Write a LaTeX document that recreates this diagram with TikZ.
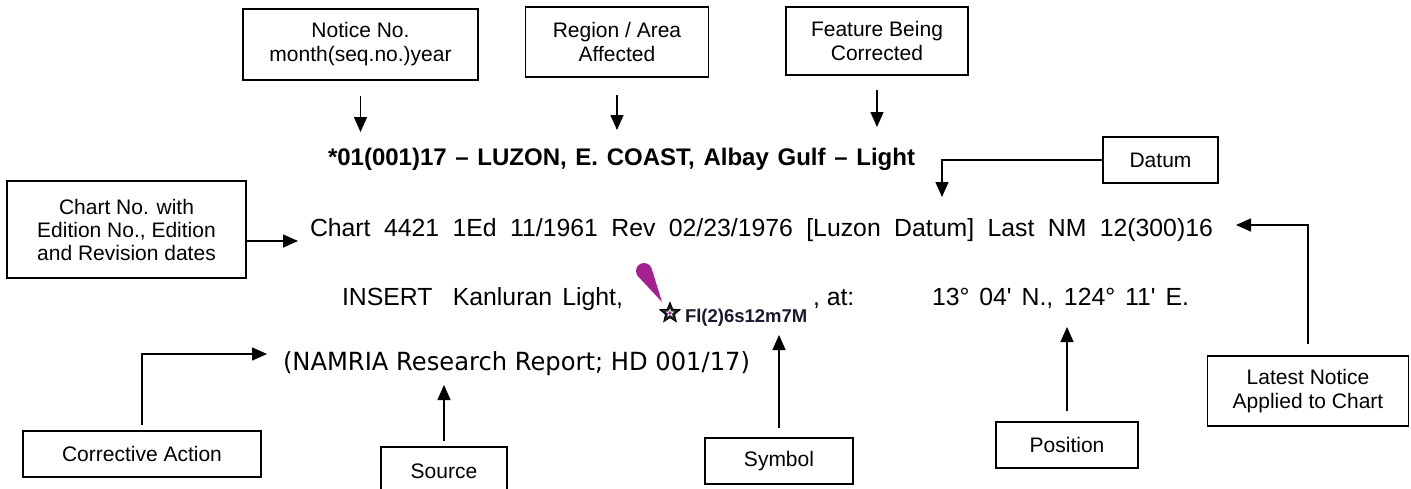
\documentclass[tikz,border=0pt]{standalone}
\usepackage{fontspec}
\setmainfont{Liberation Sans}
\newfontfamily\namfont{DejaVu Sans}
\usetikzlibrary{arrows.meta,shapes.geometric}
\definecolor{mag}{RGB}{165,33,145}
\definecolor{flc}{RGB}{25,25,45}
\newsavebox\fitbox
\newlength\fitlen
\newcommand\fitx[2]{\sbox\fitbox{#2}\setlength\fitlen{\wd\fitbox}\pgfmathsetmacro\fitratio{#1/\fitlen}\scalebox{\fitratio}[1]{\usebox\fitbox}}
\begin{document}
\begin{tikzpicture}[x=1pt,y=-1pt,
  box/.style={draw=black, line width=1.6pt, inner sep=0pt, align=center, font=\fontsize{21}{24}\selectfont},
  conn/.style={line width=1.5pt, -{Triangle[length=15pt,width=13pt]}},
  txt/.style={inner sep=0pt, outer sep=0pt}]
\useasboundingbox (0,0) rectangle (1411,488);
\fill[white] (0,0) rectangle (1411,488);

% label boxes
\node[box, minimum width=235pt, minimum height=71pt] (notice) at (360.5,44.5) {Notice No.\\month(seq.no.)year};
\node[box, minimum width=183pt, minimum height=70pt] (region) at (617,42) {Region / Area\\Affected};
\node[box, minimum width=182pt, minimum height=68pt] (feature) at (877,41) {Feature Being\\Corrected};
\node[box, minimum width=115pt, minimum height=46pt] (datum) at (1160.5,160) {Datum};
\node[box, minimum width=239pt, minimum height=97pt, font=\fontsize{21}{23}\selectfont] (chart) at (126.5,229.5) {Chart No. with\\Edition No., Edition\\and Revision dates};
\node[box, minimum width=201pt, minimum height=70pt] (latest) at (1308,391) {Latest Notice\\Applied to Chart};
\node[box, minimum width=142pt, minimum height=46pt] (position) at (1067,445) {Position};
\node[box, minimum width=148pt, minimum height=46pt] (symbol) at (779,461) {Symbol};
\node[box, minimum width=126pt, minimum height=48pt] (source) at (444,471) {Source};
\node[box, minimum width=238pt, minimum height=46pt] (corrective) at (142,454) {Corrective Action};

% notice text
\node[txt, anchor=base west] (title) at (328,165) {\makebox[587pt][s]{\bfseries\fontsize{24}{28}\selectfont *01(001)17 – LUZON, E. COAST, Albay Gulf – Light}};
\node[txt, anchor=base west] (chartline) at (310,236) {\makebox[903pt][s]{\fontsize{24.8}{28}\selectfont Chart 4421 1Ed 11/1961 Rev 02/23/1976 [Luzon Datum] Last NM 12(300)16}};
\node[txt, anchor=base east] (insert) at (623,305) {\makebox[281pt][s]{\fontsize{24.8}{28}\selectfont INSERT\ \ Kanluran Light,}};
\node[txt, anchor=base west, text=flc, font=\bfseries\fontsize{18.5}{20}\selectfont] (fl) at (685,322) {Fl(2)6s12m7M};
\node[txt, anchor=base west, font=\fontsize{24.8}{28}\selectfont] (at) at (813,305) {, at:};
\node[txt, anchor=base east] (coords) at (1189,305) {\makebox[257pt][s]{\fontsize{24.8}{28}\selectfont 13° 04\textquotesingle\ N., 124° 11\textquotesingle\ E.}};
\node[txt, anchor=base west] (namria) at (283,370) {\fitx{467}{\namfont\fontsize{25}{28}\selectfont (NAMRIA Research Report; HD 001/17)}};

% light symbol
\fill[mag] (644,271) circle[radius=8pt];
\fill[mag] (662,302) -- (638.15,276.46) -- (651.64,268.63) -- cycle;
\node[star, star points=5, star point ratio=2.3, minimum size=21pt, inner sep=0pt, draw=black, line width=1pt, fill=black!85] (star) at (670,313) {};
\node[star, star points=5, star point ratio=2.3, minimum size=9pt, inner sep=0pt, fill=white] at (star.center) {};
\fill[mag] (star.center) circle[radius=1.8pt];

% arrow end points
\coordinate (nt) at (360,132);
\coordinate (rt) at (617,130);
\coordinate (ft) at (877,127);
\coordinate (dt) at (942,197);
\coordinate (ct) at (298,241);
\coordinate (lt) at (1236,225);
\coordinate (pt) at (1067,327);
\coordinate (sy) at (779,335);
\coordinate (so) at (444,385);
\coordinate (ca) at (267,354);

% connectors
\draw[conn, shorten <=15pt] (notice.south) -- (notice.south |- nt);
\draw[conn, shorten <=17pt] (region.south) -- (region.south |- rt);
\draw[conn, shorten <=14pt] (feature.south) -- (feature.south |- ft);
\draw[conn] (datum.west) -| (dt);
\draw[conn] (chart.east |- ct) -- (ct);
\draw[conn, shorten <=11pt] (latest.north) |- (lt);
\draw[conn, shorten <=10pt] (position.north) -- (position.north |- pt);
\draw[conn, shorten <=9pt] (symbol.north) -- (symbol.north |- sy);
\draw[conn, shorten <=5pt] (source.north) -- (source.north |- so);
\draw[conn, shorten <=5pt] (corrective.north) |- (ca);
\end{tikzpicture}
\end{document}
